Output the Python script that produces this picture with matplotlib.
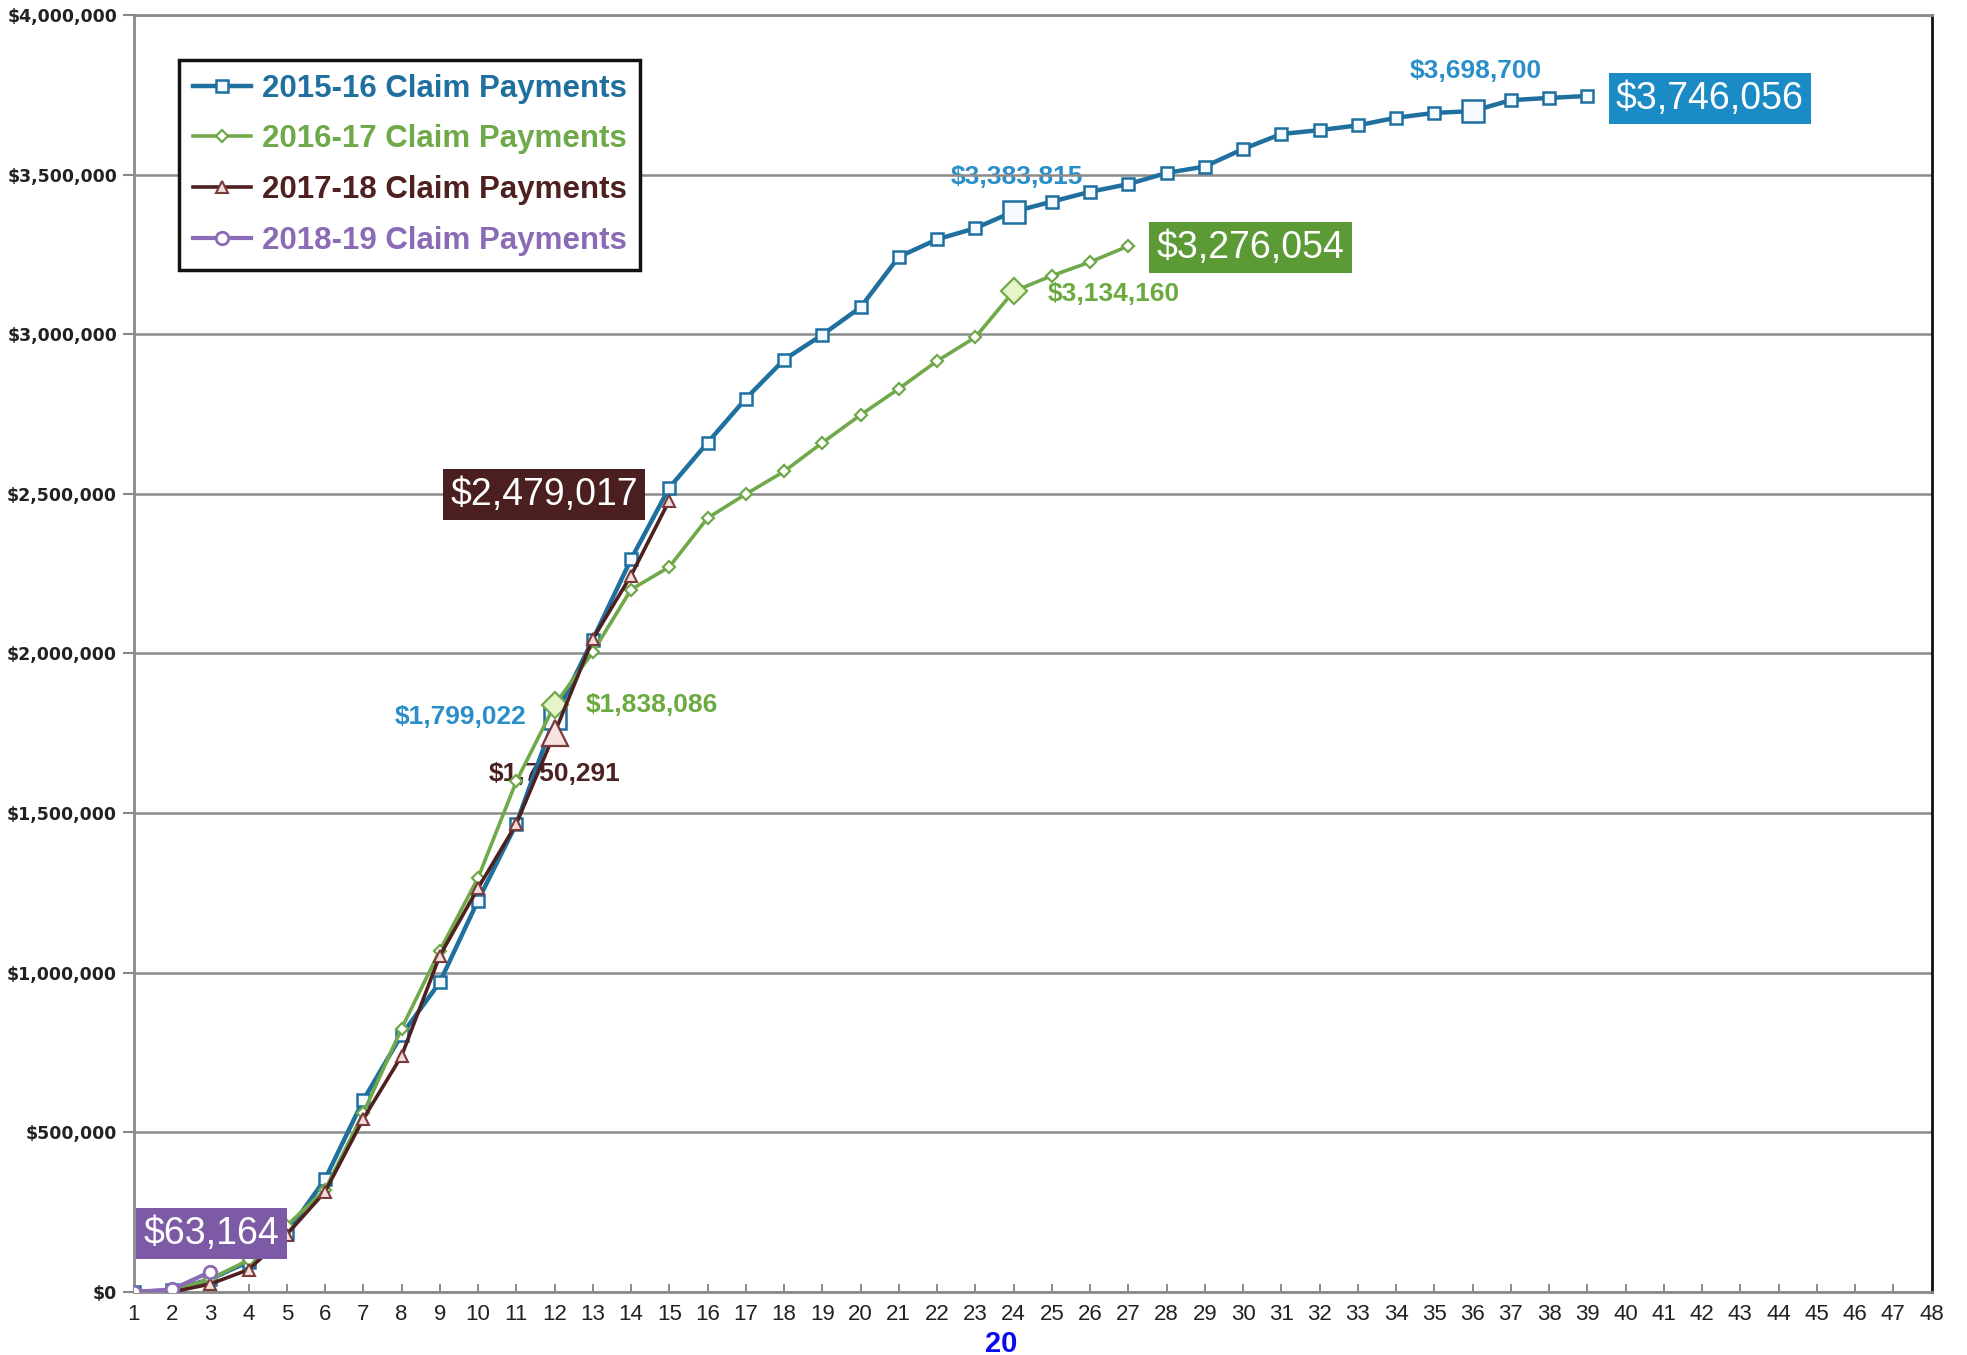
import matplotlib
matplotlib.use("Agg")
import matplotlib.pyplot as plt
from matplotlib.ticker import FuncFormatter, MultipleLocator

# ---------------- data ----------------
months = list(range(1, 49))

x_1516 = list(range(1, 40))
y_1516 = [0, 5000, 40000, 95000, 185000, 353000, 601000, 805000, 970000, 1226000,
          1466000, 1799022, 2043000, 2295000, 2519000, 2660000, 2798000, 2920000, 2998000, 3084000,
          3242000, 3297000, 3332000, 3383815, 3415000, 3446000, 3470000, 3505000, 3525000, 3580000,
          3627000, 3639000, 3654000, 3678000, 3693000, 3698700, 3733000, 3740000, 3746056]

x_1617 = list(range(1, 28))
y_1617 = [0, 5000, 40000, 100000, 208000, 320000, 560000, 825000, 1069000, 1297000,
          1599000, 1838086, 2004000, 2200000, 2271000, 2424000, 2499000, 2570000, 2660000, 2747000,
          2829000, 2916000, 2990000, 3134160, 3183000, 3226000, 3276054]

x_1718 = list(range(1, 16))
y_1718 = [0, 0, 25000, 70000, 180000, 314000, 542000, 739000, 1053000, 1265000,
          1466000, 1750291, 2045000, 2244000, 2479017]

x_1819 = [1, 2, 3]
y_1819 = [0, 8000, 63164]

labels = ["2015-16 Claim Payments", "2016-17 Claim Payments",
          "2017-18 Claim Payments", "2018-19 Claim Payments"]

# ---------------- style ----------------
BLUE, BLUE_LBL, BLUE_BOX = "#1f6f9f", "#2a8fc9", "#1b8bc6"
GREEN, GREEN_LBL, GREEN_BOX = "#6fa94a", "#6aaa3f", "#5c9a35"
BROWN, BROWN_LBL, BROWN_BOX = "#4f2020", "#4a2222", "#4b1f1f"
PURPLE, PURPLE_BOX = "#8b6bb5", "#7c5aa6"

plt.rcParams['font.family'] = ['Liberation Sans', 'DejaVu Sans']

fig = plt.figure(figsize=(19.67, 13.55), dpi=100)
ax = fig.add_axes([0.068, 0.0465, 0.914, 0.9425])

ax.plot(x_1516, y_1516, color=BLUE, lw=3.2, marker='s', ms=9, mfc='#f4faff',
        mec=BLUE, mew=1.8, zorder=3, label=labels[0])
ax.plot(x_1617, y_1617, color=GREEN, lw=2.6, marker='D', ms=6, mfc='#ffffff',
        mec=GREEN, mew=1.6, zorder=4, label=labels[1])
ax.plot(x_1718, y_1718, color=BROWN, lw=2.6, marker='^', ms=8, mfc='#f3dcdc',
        mec='#7a3a3a', mew=1.5, zorder=5, label=labels[2])
ax.plot(x_1819, y_1819, color=PURPLE, lw=3.0, marker='o', ms=9, mfc='#ffffff',
        mec=PURPLE, mew=2.0, zorder=6, label=labels[3])

# highlighted markers
for i in (11, 23, 35):
    ax.plot(x_1516[i], y_1516[i], marker='s', ms=16, mfc='#f4faff', mec=BLUE, mew=1.8, zorder=3.5)
for i in (11, 23):
    ax.plot(x_1617[i], y_1617[i], marker='D', ms=13, mfc='#e6f4c8', mec=GREEN, mew=1.6, zorder=4.5)
ax.plot(x_1718[11], y_1718[11], marker='^', ms=19, mfc='#f5e2e2', mec='#7a3a3a', mew=1.6, zorder=5.5)

# axes
ax.set_xlim(1, 48)
ax.set_ylim(0, 4000000)
ax.set_xticks(months)
ax.yaxis.set_major_locator(MultipleLocator(500000))
ax.yaxis.set_major_formatter(FuncFormatter(lambda v, p: "${:,.0f}".format(v)))
ax.grid(axis='y', color='#8c8c8c', lw=1.8)
ax.set_axisbelow(True)

ax.tick_params(axis='x', direction='in', length=6, width=1.2, color='#777777',
               labelsize=16, labelcolor='#222222', pad=9)
ax.tick_params(axis='y', direction='out', length=8, width=1.5, color='#888888',
               pad=4, labelcolor='#222222')
for lbl in ax.get_yticklabels():
    lbl.set_fontfamily('DejaVu Sans')
    lbl.set_fontweight('bold')
    lbl.set_fontsize(12.5)

for s in ('left', 'bottom', 'top'):
    ax.spines[s].set_color('#8a8a8a')
    ax.spines[s].set_linewidth(2)
ax.spines['right'].set_color('#111111')
ax.spines['right'].set_linewidth(2)

# legend
leg = ax.legend(loc='upper left', bbox_to_anchor=(0.025, 0.965),
                prop={'weight': 'bold', 'size': 22.5}, frameon=True, fancybox=False,
                edgecolor='#111111', framealpha=1, handlelength=1.85, handletextpad=0.35,
                labelspacing=0.66, borderpad=0.45, borderaxespad=0)
leg.get_frame().set_linewidth(2.5)
for txt, c in zip(leg.get_texts(), [BLUE, GREEN, BROWN, PURPLE]):
    txt.set_color(c)
leg.set_zorder(10)

# annotations - boxed
def boxed(x, y, s, fc, ha):
    ax.text(x, y, s, ha=ha, va='center', fontsize=27, color='white', zorder=8,
            bbox=dict(boxstyle='square,pad=0.2', fc=fc, ec='none'))

boxed(39.75, y_1516[-1] - 8000, "${:,}".format(y_1516[-1]), BLUE_BOX, 'left')
boxed(27.75, 3270000, "${:,}".format(y_1617[-1]), GREEN_BOX, 'left')
boxed(14.18, 2497000, "${:,}".format(y_1718[-1]), BROWN_BOX, 'right')
boxed(1.26, 183000, "${:,}".format(y_1819[-1]), PURPLE_BOX, 'left')

def small(x, y, s, c, ha, z=7):
    ax.text(x, y, s, ha=ha, va='center', fontsize=19, fontweight='bold', color=c, zorder=z)

small(36.09, 3823000, "${:,}".format(y_1516[35]), BLUE_LBL, 'center')
small(24.09, 3493000, "${:,}".format(y_1516[23]), BLUE_LBL, 'center', z=0.4)
small(24.88, 3125000, "${:,}".format(y_1617[23]), GREEN_LBL, 'left')
small(11.27, 1800000, "${:,}".format(y_1516[11]), BLUE_LBL, 'right')
small(12.81, 1839000, "${:,}".format(y_1617[11]), GREEN_LBL, 'left')
small(11.99, 1623000, "${:,}".format(y_1718[11]), BROWN_LBL, 'center', z=2)

fig.text(0.509, 0.008, "20", ha='center', va='center', fontsize=21,
         fontweight='bold', color='#0a0af0')

fig.savefig("out.png", dpi=100)
